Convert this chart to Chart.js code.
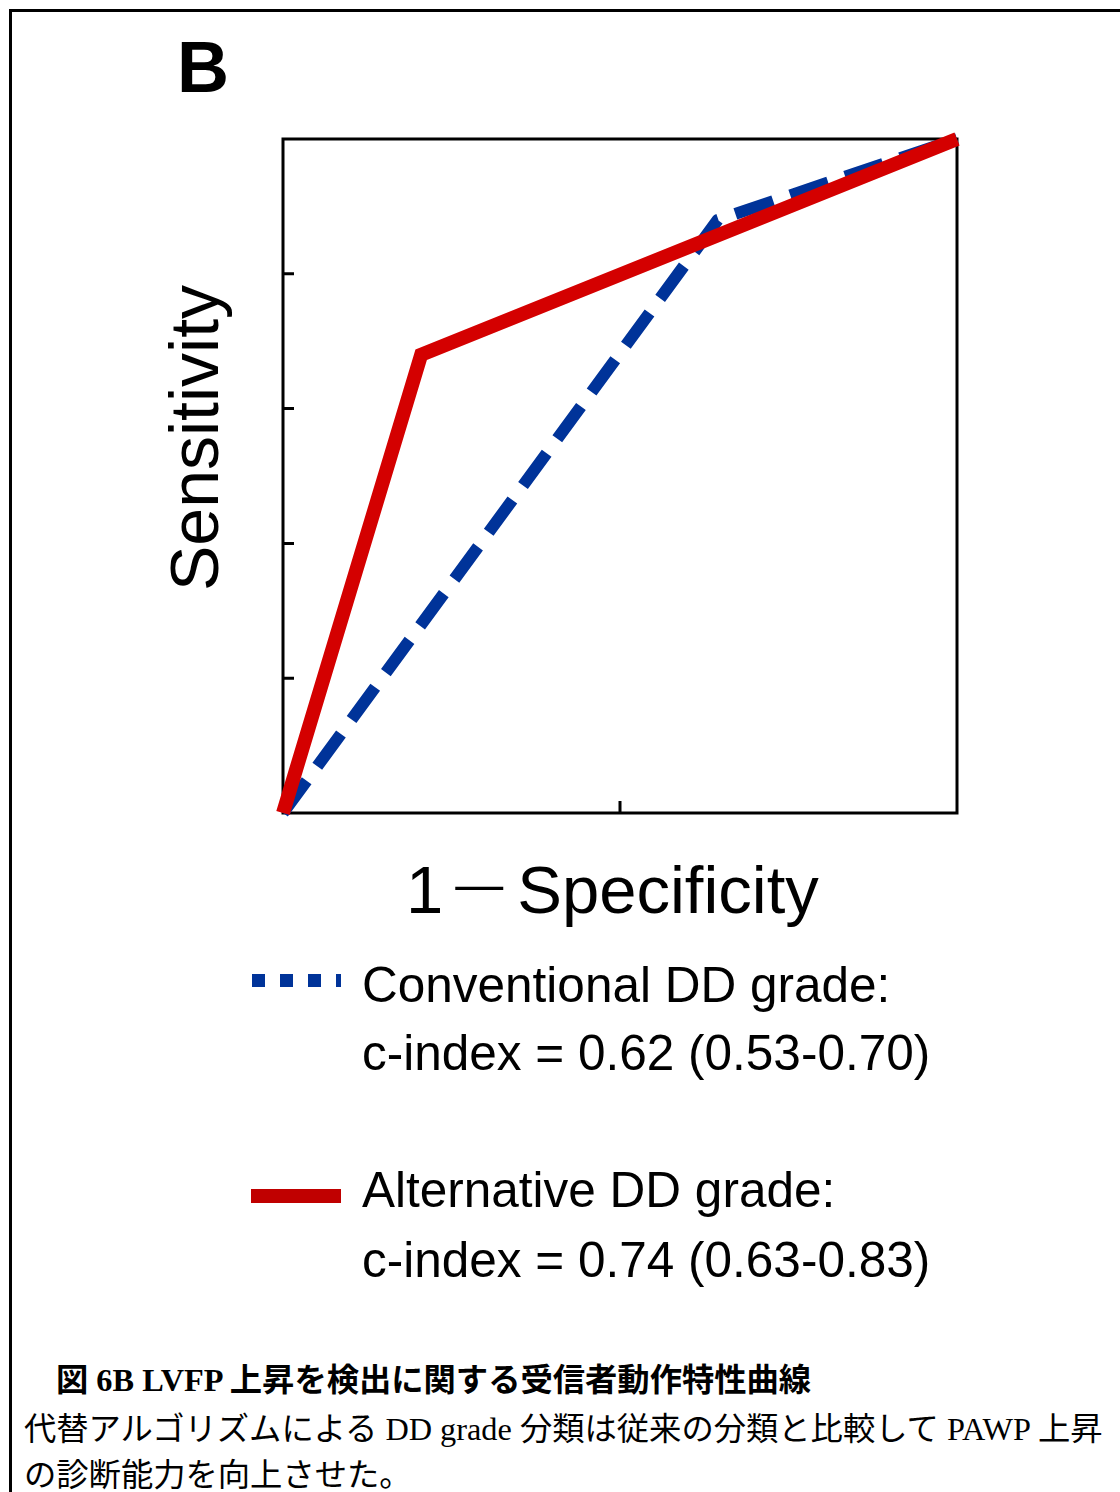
<!DOCTYPE html>
<html><head><meta charset="utf-8">
<script src="https://cdn.jsdelivr.net/npm/chart.js@4.4.1/dist/chart.umd.min.js"></script>
<style>
html,body{margin:0;padding:0;background:#fff;}
body{width:1120px;height:1492px;position:relative;overflow:hidden;font-family:"Liberation Sans",Arial,sans-serif;color:#000;}
#frame{position:absolute;left:9px;top:9px;width:1300px;height:1700px;border-left:3px solid #000;border-top:3px solid #000;}
#wrap{position:absolute;left:0;top:0;width:1120px;height:880px;}
.t{position:absolute;white-space:nowrap;line-height:1;}
#lblB{left:177px;top:31px;font-size:72px;font-weight:bold;}
#ytitle{left:160px;top:591px;font-size:68px;transform-origin:0 0;transform:rotate(-90deg);}
#xtitle{left:406px;top:856px;font-size:67px;}
#xtitle .dash{font-size:48px;display:inline-block;margin-left:12px;margin-right:14px;position:relative;top:-12px;}
.leg{font-size:49.5px;left:362px;}
#legBlue{position:absolute;left:252px;top:974px;width:89px;height:13px;background:repeating-linear-gradient(90deg,#003399 0 13px,transparent 13px 28px);}
#legRed{position:absolute;left:251px;top:1189px;width:90px;height:14px;background:#c00000;}
.cap{font-family:"Liberation Serif","Noto Sans CJK JP",serif;font-size:32.3px;}
</style>
</head><body>
<div id="frame"></div>
<div id="wrap"><canvas id="c" width="1120" height="880"></canvas></div>
<div class="t" id="lblB">B</div>
<div class="t" id="ytitle">Sensitivity</div>
<div class="t" id="xtitle"><span>1</span><span class="dash">—</span><span>Specificity</span></div>
<div id="legBlue"></div>
<div class="t leg" style="top:960px">Conventional DD grade:</div>
<div class="t leg" style="top:1028px">c-index = 0.62 (0.53-0.70)</div>
<div id="legRed"></div>
<div class="t leg" style="top:1165px">Alternative DD grade:</div>
<div class="t leg" style="top:1235px">c-index = 0.74 (0.63-0.83)</div>
<div class="t cap" style="left:56px;top:1364px;font-weight:bold;">図 6B LVFP 上昇を検出に関する受信者動作特性曲線</div>
<div class="t cap" style="left:24px;top:1413px;">代替アルゴリズムによる DD grade 分類は従来の分類と比較して PAWP 上昇</div>
<div class="t cap" style="left:24px;top:1459px;">の診断能力を向上させた。</div>
<script>
const conventionalFPR = [0, 0.645, 1];
const conventionalTPR = [0, 0.88, 1];
const alternativeFPR = [0, 0.205, 1];
const alternativeTPR = [0, 0.68, 1];
const xTickValues = [0.5];
const yTickValues = [0.2, 0.4, 0.6, 0.8];

const toPts = (xs, ys) => xs.map((v, i) => ({x: v, y: ys[i]}));

const framePlugin = {
  id: 'frame',
  beforeDatasetsDraw(chart) {
    const {ctx, chartArea: a, scales: {x, y}} = chart;
    ctx.save();
    ctx.strokeStyle = '#000';
    ctx.lineWidth = 3;
    ctx.strokeRect(a.left, a.top, a.right - a.left, a.bottom - a.top);
    ctx.beginPath();
    yTickValues.forEach(v => { const py = y.getPixelForValue(v); ctx.moveTo(a.left, py); ctx.lineTo(a.left + 11, py); });
    xTickValues.forEach(v => { const px = x.getPixelForValue(v); ctx.moveTo(px, a.bottom); ctx.lineTo(px, a.bottom - 12); });
    ctx.stroke();
    ctx.restore();
  }
};

new Chart(document.getElementById('c'), {
  type: 'scatter',
  data: {
    datasets: [
      {label: 'Alternative DD grade', data: toPts(alternativeFPR, alternativeTPR), showLine: true, borderColor: '#d40000', borderWidth: 14, pointRadius: 0, borderJoinStyle: 'miter', borderCapStyle: 'butt', order: 0, clip: 10},
      {label: 'Conventional DD grade', data: toPts(conventionalFPR, conventionalTPR), showLine: true, borderColor: '#003399', borderWidth: 12, borderDash: [40, 18], pointRadius: 0, borderJoinStyle: 'round', borderCapStyle: 'butt', order: 1, clip: 10}
    ]
  },
  options: {
    responsive: false,
    animation: false,
    devicePixelRatio: 1,
    layout: {padding: {left: 283, top: 139, right: 163, bottom: 67}},
    plugins: {legend: {display: false}, tooltip: {enabled: false}, title: {display: false}},
    scales: {
      x: {type: 'linear', min: 0, max: 1, display: false},
      y: {type: 'linear', min: 0, max: 1, display: false}
    }
  },
  plugins: [framePlugin]
});
</script>
</body></html>
